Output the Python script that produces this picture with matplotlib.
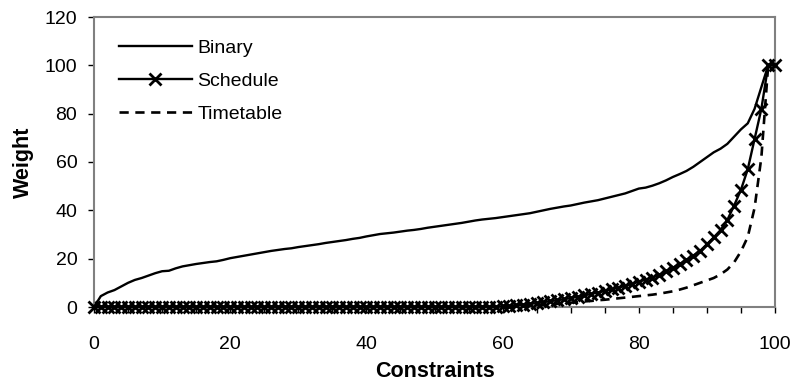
import matplotlib
matplotlib.use("Agg")
import matplotlib.pyplot as plt
import numpy as np

plt.rcParams['font.family'] = ['Liberation Sans', 'DejaVu Sans']

constraints = list(range(0, 101))

binary = [0, 4.5, 6, 7, 8.5, 10, 11.2, 12, 13, 14, 14.8, 15, 16, 16.8, 17.3, 17.8, 18.2, 18.6, 18.9, 19.5,
          20.2, 20.7, 21.2, 21.7, 22.2, 22.7, 23.2, 23.6, 24, 24.3, 24.8, 25.2, 25.6, 26, 26.5, 26.9, 27.3,
          27.7, 28.2, 28.6, 29.2, 29.7, 30.2, 30.5, 30.8, 31.2, 31.6, 31.9, 32.3, 32.8, 33.2, 33.6, 34, 34.4,
          34.8, 35.3, 35.8, 36.2, 36.5, 36.8, 37.2, 37.6, 38, 38.4, 38.8, 39.4, 40, 40.6, 41.1, 41.6, 42,
          42.6, 43.2, 43.7, 44.2, 44.9, 45.6, 46.3, 47, 48, 49, 49.4, 50.2, 51.2, 52.4, 53.8, 55, 56.3, 58,
          60, 62, 64, 65.5, 67.5, 70.5, 73.5, 76, 82, 91, 100, 100]

schedule = [0] * 60 + [0.3, 0.5, 0.7, 1.0, 1.3, 1.6, 2.0, 2.4, 2.8, 3.2,
                       3.7, 4.2, 4.8, 5.4, 6.0, 6.6, 7.3, 8.0, 8.7, 9.5,
                       10.5, 11.3, 12.2, 13.3, 14.8, 16.3, 17.8, 19.5, 21.3, 23.2,
                       26, 28.8, 31.8, 36, 42, 48.5, 57, 69.5, 82, 100, 100]

timetable = [0] * 60 + [0, 0.1, 0.2, 0.3, 0.5, 0.7, 0.9, 1.1, 1.3, 1.5,
                        1.8, 2.0, 2.3, 2.5, 2.8, 3.0, 3.3, 3.6, 3.9, 4.2,
                        4.5, 4.8, 5.1, 5.5, 6.0, 6.5, 7.2, 8.0, 9.0, 10,
                        11, 12, 13.5, 15.5, 18.5, 23, 29, 41, 62, 100, 100]

x_major = [0, 20, 40, 60, 80, 100]
x_minor = list(range(0, 101, 5))
y_ticks = [0, 20, 40, 60, 80, 100, 120]

fig = plt.figure(figsize=(7.94, 3.83), dpi=100)
ax = fig.add_axes([94/794, 1-307/383, (775-94)/794, (307-17)/383])

ax.plot(constraints, binary, color='black', lw=1.7, label='Binary', clip_on=False, zorder=3)
ax.plot(constraints, schedule, color='black', lw=1.7, marker='x', markersize=8.5,
        markeredgewidth=2, label='Schedule', clip_on=False, zorder=4)
ax.plot(constraints, timetable, color='black', lw=1.9, linestyle=(0, (3.5, 2.5)),
        label='Timetable', clip_on=False, zorder=3)

ax.set_xlim(0, 100)
ax.set_ylim(0, 120)
ax.set_xticks(x_major)
ax.set_xticks(x_minor, minor=True)
ax.set_yticks(y_ticks)
ax.tick_params(axis='both', which='both', direction='out', length=4, width=1, color='black',
               labelsize=14)
ax.tick_params(axis='x', which='both', pad=17)
ax.tick_params(axis='y', which='both', pad=8)
for s in ax.spines.values():
    s.set_color('#808080')
    s.set_linewidth(1.5)

ax.set_xlabel('Constraints', fontsize=15.5, fontweight='bold', labelpad=5.5)
ax.set_ylabel('Weight', fontsize=15.5, fontweight='bold', labelpad=8)

leg = ax.legend(loc='upper left', frameon=False, fontsize=14, handlelength=3.75,
                numpoints=1, borderaxespad=0, bbox_to_anchor=(0.025, 0.951),
                labelspacing=0.8, handletextpad=0.3)

fig.savefig('out.png', dpi=100)
